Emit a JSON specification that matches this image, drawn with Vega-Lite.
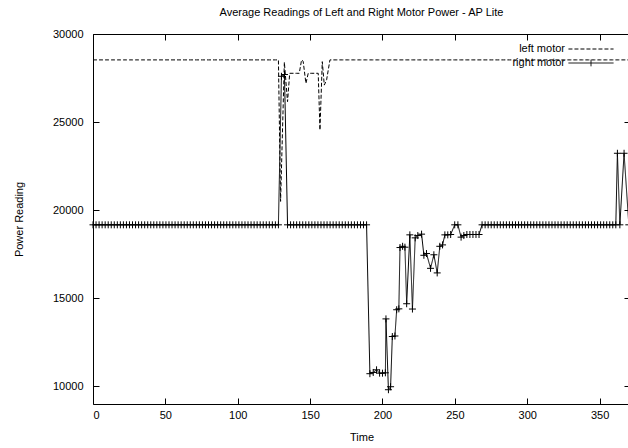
{
"$schema": "https://vega.github.io/schema/vega-lite/v6.json",
"width": 537, "height": 370,
"autosize": {"type": "none"},
"padding": {"left": 93, "top": 34, "right": 0, "bottom": 44},
"background": "white",
"config": {
  "font": "Liberation Sans",
  "view": {"stroke": "black", "strokeWidth": 1},
  "axis": {"grid": false, "domain": false, "tickColor": "black", "tickSize": -6, "labelColor": "black", "labelFontSize": 11, "titleFontSize": 11, "titleFontWeight": "normal", "titleColor": "black", "labelFont": "Liberation Sans", "titleFont": "Liberation Sans"}
},
"title": {"text": "Average Readings of Left and Right Motor Power - AP Lite", "fontSize": 11, "fontWeight": "normal", "font": "Liberation Sans", "offset": 10, "color": "black"},
"data": {"values": [
{"s":"left motor","t":0,"v":28530},{"s":"left motor","t":2.1,"v":28530},{"s":"left motor","t":4.2,"v":28530},{"s":"left motor","t":6.3,"v":28530},{"s":"left motor","t":8.4,"v":28530},{"s":"left motor","t":10.5,"v":28530},{"s":"left motor","t":12.6,"v":28530},{"s":"left motor","t":14.7,"v":28530},{"s":"left motor","t":16.8,"v":28530},{"s":"left motor","t":18.9,"v":28530},
{"s":"left motor","t":21,"v":28530},{"s":"left motor","t":23.1,"v":28530},{"s":"left motor","t":25.2,"v":28530},{"s":"left motor","t":27.3,"v":28530},{"s":"left motor","t":29.4,"v":28530},{"s":"left motor","t":31.5,"v":28530},{"s":"left motor","t":33.6,"v":28530},{"s":"left motor","t":35.7,"v":28530},{"s":"left motor","t":37.8,"v":28530},{"s":"left motor","t":39.9,"v":28530},
{"s":"left motor","t":42,"v":28530},{"s":"left motor","t":44.1,"v":28530},{"s":"left motor","t":46.2,"v":28530},{"s":"left motor","t":48.3,"v":28530},{"s":"left motor","t":50.4,"v":28530},{"s":"left motor","t":52.5,"v":28530},{"s":"left motor","t":54.6,"v":28530},{"s":"left motor","t":56.7,"v":28530},{"s":"left motor","t":58.8,"v":28530},{"s":"left motor","t":60.9,"v":28530},
{"s":"left motor","t":63,"v":28530},{"s":"left motor","t":65.1,"v":28530},{"s":"left motor","t":67.2,"v":28530},{"s":"left motor","t":69.3,"v":28530},{"s":"left motor","t":71.4,"v":28530},{"s":"left motor","t":73.5,"v":28530},{"s":"left motor","t":75.6,"v":28530},{"s":"left motor","t":77.7,"v":28530},{"s":"left motor","t":79.8,"v":28530},{"s":"left motor","t":81.9,"v":28530},
{"s":"left motor","t":84,"v":28530},{"s":"left motor","t":86.1,"v":28530},{"s":"left motor","t":88.2,"v":28530},{"s":"left motor","t":90.3,"v":28530},{"s":"left motor","t":92.4,"v":28530},{"s":"left motor","t":94.5,"v":28530},{"s":"left motor","t":96.6,"v":28530},{"s":"left motor","t":98.7,"v":28530},{"s":"left motor","t":100.8,"v":28530},{"s":"left motor","t":102.9,"v":28530},
{"s":"left motor","t":105,"v":28530},{"s":"left motor","t":107.1,"v":28530},{"s":"left motor","t":109.2,"v":28530},{"s":"left motor","t":111.3,"v":28530},{"s":"left motor","t":113.4,"v":28530},{"s":"left motor","t":115.5,"v":28530},{"s":"left motor","t":117.6,"v":28530},{"s":"left motor","t":119.7,"v":28530},{"s":"left motor","t":121.8,"v":28530},{"s":"left motor","t":123.9,"v":28530},
{"s":"left motor","t":126,"v":28530},{"s":"left motor","t":128.1,"v":28530},
{"s":"left motor","t":129.6,"v":20500},{"s":"left motor","t":132.2,"v":28400},{"s":"left motor","t":134.4,"v":26160},{"s":"left motor","t":135.9,"v":27770},{"s":"left motor","t":138.6,"v":27770},{"s":"left motor","t":140.7,"v":27770},{"s":"left motor","t":142.5,"v":27770},{"s":"left motor","t":144.1,"v":28530},{"s":"left motor","t":145.2,"v":28450},{"s":"left motor","t":147.1,"v":27200},
{"s":"left motor","t":148.7,"v":27770},{"s":"left motor","t":151.2,"v":27770},{"s":"left motor","t":153.3,"v":27770},{"s":"left motor","t":155.6,"v":27770},{"s":"left motor","t":156.8,"v":24550},{"s":"left motor","t":158.4,"v":28430},{"s":"left motor","t":159.8,"v":27100},{"s":"left motor","t":161.4,"v":27400},{"s":"left motor","t":163.7,"v":28530},
{"s":"left motor","t":165.9,"v":28530},{"s":"left motor","t":168,"v":28530},{"s":"left motor","t":170.1,"v":28530},{"s":"left motor","t":172.2,"v":28530},{"s":"left motor","t":174.3,"v":28530},{"s":"left motor","t":176.4,"v":28530},{"s":"left motor","t":178.5,"v":28530},{"s":"left motor","t":180.6,"v":28530},{"s":"left motor","t":182.7,"v":28530},{"s":"left motor","t":184.8,"v":28530},
{"s":"left motor","t":186.9,"v":28530},{"s":"left motor","t":189,"v":28530},{"s":"left motor","t":191.1,"v":28530},{"s":"left motor","t":193.2,"v":28530},{"s":"left motor","t":195.3,"v":28530},{"s":"left motor","t":197.4,"v":28530},{"s":"left motor","t":199.5,"v":28530},{"s":"left motor","t":201.6,"v":28530},{"s":"left motor","t":203.7,"v":28530},{"s":"left motor","t":205.8,"v":28530},
{"s":"left motor","t":207.9,"v":28530},{"s":"left motor","t":210,"v":28530},{"s":"left motor","t":212.1,"v":28530},{"s":"left motor","t":214.2,"v":28530},{"s":"left motor","t":216.3,"v":28530},{"s":"left motor","t":218.4,"v":28530},{"s":"left motor","t":220.5,"v":28530},{"s":"left motor","t":222.6,"v":28530},{"s":"left motor","t":224.7,"v":28530},{"s":"left motor","t":226.8,"v":28530},
{"s":"left motor","t":228.9,"v":28530},{"s":"left motor","t":231,"v":28530},{"s":"left motor","t":233.1,"v":28530},{"s":"left motor","t":235.2,"v":28530},{"s":"left motor","t":237.3,"v":28530},{"s":"left motor","t":239.4,"v":28530},{"s":"left motor","t":241.5,"v":28530},{"s":"left motor","t":243.6,"v":28530},{"s":"left motor","t":245.7,"v":28530},{"s":"left motor","t":247.8,"v":28530},
{"s":"left motor","t":249.9,"v":28530},{"s":"left motor","t":252,"v":28530},{"s":"left motor","t":254.1,"v":28530},{"s":"left motor","t":256.2,"v":28530},{"s":"left motor","t":258.3,"v":28530},{"s":"left motor","t":260.4,"v":28530},{"s":"left motor","t":262.5,"v":28530},{"s":"left motor","t":264.6,"v":28530},{"s":"left motor","t":266.7,"v":28530},{"s":"left motor","t":268.8,"v":28530},
{"s":"left motor","t":270.9,"v":28530},{"s":"left motor","t":273,"v":28530},{"s":"left motor","t":275.1,"v":28530},{"s":"left motor","t":277.2,"v":28530},{"s":"left motor","t":279.3,"v":28530},{"s":"left motor","t":281.4,"v":28530},{"s":"left motor","t":283.5,"v":28530},{"s":"left motor","t":285.6,"v":28530},{"s":"left motor","t":287.7,"v":28530},{"s":"left motor","t":289.8,"v":28530},
{"s":"left motor","t":291.9,"v":28530},{"s":"left motor","t":294,"v":28530},{"s":"left motor","t":296.1,"v":28530},{"s":"left motor","t":298.2,"v":28530},{"s":"left motor","t":300.3,"v":28530},{"s":"left motor","t":302.4,"v":28530},{"s":"left motor","t":304.5,"v":28530},{"s":"left motor","t":306.6,"v":28530},{"s":"left motor","t":308.7,"v":28530},{"s":"left motor","t":310.8,"v":28530},
{"s":"left motor","t":312.9,"v":28530},{"s":"left motor","t":315,"v":28530},{"s":"left motor","t":317.1,"v":28530},{"s":"left motor","t":319.2,"v":28530},{"s":"left motor","t":321.3,"v":28530},{"s":"left motor","t":323.4,"v":28530},{"s":"left motor","t":325.5,"v":28530},{"s":"left motor","t":327.6,"v":28530},{"s":"left motor","t":329.7,"v":28530},{"s":"left motor","t":331.8,"v":28530},
{"s":"left motor","t":333.9,"v":28530},{"s":"left motor","t":336,"v":28530},{"s":"left motor","t":338.1,"v":28530},{"s":"left motor","t":340.2,"v":28530},{"s":"left motor","t":342.3,"v":28530},{"s":"left motor","t":344.4,"v":28530},{"s":"left motor","t":346.5,"v":28530},{"s":"left motor","t":348.6,"v":28530},{"s":"left motor","t":350.7,"v":28530},{"s":"left motor","t":352.8,"v":28530},
{"s":"left motor","t":354.9,"v":28530},{"s":"left motor","t":357,"v":28530},{"s":"left motor","t":359.1,"v":28530},{"s":"left motor","t":361.2,"v":28530},{"s":"left motor","t":363.3,"v":28530},{"s":"left motor","t":365.4,"v":28530},{"s":"left motor","t":367.5,"v":28530},{"s":"left motor","t":369.6,"v":28530},
{"s":"right motor","t":0,"v":19170},{"s":"right motor","t":2.1,"v":19170},{"s":"right motor","t":4.2,"v":19170},{"s":"right motor","t":6.3,"v":19170},{"s":"right motor","t":8.4,"v":19170},{"s":"right motor","t":10.5,"v":19170},{"s":"right motor","t":12.6,"v":19170},{"s":"right motor","t":14.7,"v":19170},{"s":"right motor","t":16.8,"v":19170},{"s":"right motor","t":18.9,"v":19170},
{"s":"right motor","t":21,"v":19170},{"s":"right motor","t":23.1,"v":19170},{"s":"right motor","t":25.2,"v":19170},{"s":"right motor","t":27.3,"v":19170},{"s":"right motor","t":29.4,"v":19170},{"s":"right motor","t":31.5,"v":19170},{"s":"right motor","t":33.6,"v":19170},{"s":"right motor","t":35.7,"v":19170},{"s":"right motor","t":37.8,"v":19170},{"s":"right motor","t":39.9,"v":19170},
{"s":"right motor","t":42,"v":19170},{"s":"right motor","t":44.1,"v":19170},{"s":"right motor","t":46.2,"v":19170},{"s":"right motor","t":48.3,"v":19170},{"s":"right motor","t":50.4,"v":19170},{"s":"right motor","t":52.5,"v":19170},{"s":"right motor","t":54.6,"v":19170},{"s":"right motor","t":56.7,"v":19170},{"s":"right motor","t":58.8,"v":19170},{"s":"right motor","t":60.9,"v":19170},
{"s":"right motor","t":63,"v":19170},{"s":"right motor","t":65.1,"v":19170},{"s":"right motor","t":67.2,"v":19170},{"s":"right motor","t":69.3,"v":19170},{"s":"right motor","t":71.4,"v":19170},{"s":"right motor","t":73.5,"v":19170},{"s":"right motor","t":75.6,"v":19170},{"s":"right motor","t":77.7,"v":19170},{"s":"right motor","t":79.8,"v":19170},{"s":"right motor","t":81.9,"v":19170},
{"s":"right motor","t":84,"v":19170},{"s":"right motor","t":86.1,"v":19170},{"s":"right motor","t":88.2,"v":19170},{"s":"right motor","t":90.3,"v":19170},{"s":"right motor","t":92.4,"v":19170},{"s":"right motor","t":94.5,"v":19170},{"s":"right motor","t":96.6,"v":19170},{"s":"right motor","t":98.7,"v":19170},{"s":"right motor","t":100.8,"v":19170},{"s":"right motor","t":102.9,"v":19170},
{"s":"right motor","t":105,"v":19170},{"s":"right motor","t":107.1,"v":19170},{"s":"right motor","t":109.2,"v":19170},{"s":"right motor","t":111.3,"v":19170},{"s":"right motor","t":113.4,"v":19170},{"s":"right motor","t":115.5,"v":19170},{"s":"right motor","t":117.6,"v":19170},{"s":"right motor","t":119.7,"v":19170},{"s":"right motor","t":121.8,"v":19170},{"s":"right motor","t":123.9,"v":19170},
{"s":"right motor","t":126,"v":19170},{"s":"right motor","t":128.1,"v":19170},{"s":"right motor","t":130.2,"v":27600},{"s":"right motor","t":132.3,"v":27700},
{"s":"right motor","t":134.4,"v":19170},{"s":"right motor","t":136.5,"v":19170},{"s":"right motor","t":138.6,"v":19170},{"s":"right motor","t":140.7,"v":19170},{"s":"right motor","t":142.8,"v":19170},{"s":"right motor","t":144.9,"v":19170},{"s":"right motor","t":147,"v":19170},{"s":"right motor","t":149.1,"v":19170},{"s":"right motor","t":151.2,"v":19170},{"s":"right motor","t":153.3,"v":19170},
{"s":"right motor","t":155.4,"v":19170},{"s":"right motor","t":157.5,"v":19170},{"s":"right motor","t":159.6,"v":19170},{"s":"right motor","t":161.7,"v":19170},{"s":"right motor","t":163.8,"v":19170},{"s":"right motor","t":165.9,"v":19170},{"s":"right motor","t":168,"v":19170},{"s":"right motor","t":170.1,"v":19170},{"s":"right motor","t":172.2,"v":19170},{"s":"right motor","t":174.3,"v":19170},
{"s":"right motor","t":176.4,"v":19170},{"s":"right motor","t":178.5,"v":19170},{"s":"right motor","t":180.6,"v":19170},{"s":"right motor","t":182.7,"v":19170},{"s":"right motor","t":184.8,"v":19170},{"s":"right motor","t":186.9,"v":19170},{"s":"right motor","t":189,"v":19170},
{"s":"right motor","t":191.3,"v":10720},{"s":"right motor","t":193.6,"v":10790},{"s":"right motor","t":195.9,"v":10940},{"s":"right motor","t":198,"v":10750},{"s":"right motor","t":200,"v":10750},{"s":"right motor","t":202,"v":10770},{"s":"right motor","t":202.4,"v":13830},{"s":"right motor","t":204.1,"v":9810},{"s":"right motor","t":205.6,"v":9980},{"s":"right motor","t":206.8,"v":12830},
{"s":"right motor","t":208.6,"v":12860},{"s":"right motor","t":209.8,"v":14350},{"s":"right motor","t":211.3,"v":14400},{"s":"right motor","t":212.1,"v":17880},{"s":"right motor","t":213.9,"v":17950},{"s":"right motor","t":215.5,"v":17900},{"s":"right motor","t":216.7,"v":14690},{"s":"right motor","t":218.9,"v":18600},{"s":"right motor","t":220.7,"v":14390},{"s":"right motor","t":222.6,"v":18430},
{"s":"right motor","t":224.4,"v":18560},{"s":"right motor","t":227,"v":18640},{"s":"right motor","t":228.6,"v":17440},{"s":"right motor","t":230.4,"v":17540},{"s":"right motor","t":233.2,"v":16700},{"s":"right motor","t":235.5,"v":17470},{"s":"right motor","t":237.8,"v":16440},{"s":"right motor","t":239.6,"v":17950},{"s":"right motor","t":241.5,"v":18030},{"s":"right motor","t":243.1,"v":18600},
{"s":"right motor","t":245.1,"v":18600},{"s":"right motor","t":247.1,"v":18620},{"s":"right motor","t":249.9,"v":19170},{"s":"right motor","t":252.1,"v":19170},{"s":"right motor","t":254.3,"v":18470},{"s":"right motor","t":256.2,"v":18560},{"s":"right motor","t":258.3,"v":18620},{"s":"right motor","t":260.4,"v":18620},{"s":"right motor","t":262.5,"v":18620},{"s":"right motor","t":264.6,"v":18620},
{"s":"right motor","t":266.7,"v":18620},
{"s":"right motor","t":268.8,"v":19170},{"s":"right motor","t":270.9,"v":19170},{"s":"right motor","t":273,"v":19170},{"s":"right motor","t":275.1,"v":19170},{"s":"right motor","t":277.2,"v":19170},{"s":"right motor","t":279.3,"v":19170},{"s":"right motor","t":281.4,"v":19170},{"s":"right motor","t":283.5,"v":19170},{"s":"right motor","t":285.6,"v":19170},{"s":"right motor","t":287.7,"v":19170},
{"s":"right motor","t":289.8,"v":19170},{"s":"right motor","t":291.9,"v":19170},{"s":"right motor","t":294,"v":19170},{"s":"right motor","t":296.1,"v":19170},{"s":"right motor","t":298.2,"v":19170},{"s":"right motor","t":300.3,"v":19170},{"s":"right motor","t":302.4,"v":19170},{"s":"right motor","t":304.5,"v":19170},{"s":"right motor","t":306.6,"v":19170},{"s":"right motor","t":308.7,"v":19170},
{"s":"right motor","t":310.8,"v":19170},{"s":"right motor","t":312.9,"v":19170},{"s":"right motor","t":315,"v":19170},{"s":"right motor","t":317.1,"v":19170},{"s":"right motor","t":319.2,"v":19170},{"s":"right motor","t":321.3,"v":19170},{"s":"right motor","t":323.4,"v":19170},{"s":"right motor","t":325.5,"v":19170},{"s":"right motor","t":327.6,"v":19170},{"s":"right motor","t":329.7,"v":19170},
{"s":"right motor","t":331.8,"v":19170},{"s":"right motor","t":333.9,"v":19170},{"s":"right motor","t":336,"v":19170},{"s":"right motor","t":338.1,"v":19170},{"s":"right motor","t":340.2,"v":19170},{"s":"right motor","t":342.3,"v":19170},{"s":"right motor","t":344.4,"v":19170},{"s":"right motor","t":346.5,"v":19170},{"s":"right motor","t":348.6,"v":19170},{"s":"right motor","t":350.7,"v":19170},
{"s":"right motor","t":352.8,"v":19170},{"s":"right motor","t":354.9,"v":19170},{"s":"right motor","t":357,"v":19170},{"s":"right motor","t":359.1,"v":19170},{"s":"right motor","t":361.2,"v":19170},{"s":"right motor","t":362.3,"v":23230},{"s":"right motor","t":364,"v":19170},{"s":"right motor","t":366.9,"v":23230},{"s":"right motor","t":370.2,"v":19170}
]},
"layer": [
  {"mark": {"type": "line", "strokeWidth": 1, "color": "black"},
   "encoding": {
     "x": {"field": "t", "type": "quantitative", "scale": {"domain": [0, 371], "nice": false, "zero": false},
           "axis": {"title": "Time", "values": [0, 50, 100, 150, 200, 250, 300, 350], "labelPadding": 11, "titlePadding": 11}},
     "y": {"field": "v", "type": "quantitative", "scale": {"domain": [9000, 30000], "nice": false, "zero": false},
           "axis": {"title": "Power Reading", "format": "d", "values": [10000, 15000, 20000, 25000, 30000], "labelPadding": 16, "titlePadding": 28}},
     "strokeDash": {"field": "s", "type": "nominal",
           "scale": {"domain": ["left motor", "right motor"], "range": [[4, 2], [1, 0]]},
           "legend": {"title": null, "orient": "none", "legendX": 492, "legendY": 9, "symbolType": "M-4.1,0H4.1", "symbolSize": 121,
                      "symbolStrokeColor": "black", "symbolStrokeWidth": 1, "labelAlign": "right", "labelOffset": -32,
                      "labelFontSize": 11, "labelColor": "black", "labelFont": "Liberation Sans", "rowPadding": 3, "padding": 0,
                      "encode": {"symbols": {"update": {"shape": {"signal": "datum.value === 'right motor' ? 'M-4.1,0H4.1M0,-0.6V0.6' : 'M-4.1,0H4.1'"}}}}}}
   }},
  {"transform": [{"filter": "datum.s === 'right motor'"}],
   "mark": {"type": "point", "shape": "M-1,0H1M0,-1V1", "size": 49, "filled": false, "color": "black", "strokeWidth": 1, "opacity": 1},
   "encoding": {
     "x": {"field": "t", "type": "quantitative", "axis": {"orient": "top", "labels": false, "title": null, "values": [0, 50, 100, 150, 200, 250, 300, 350]}},
     "y": {"field": "v", "type": "quantitative", "axis": {"orient": "right", "labels": false, "title": null, "values": [10000, 15000, 20000, 25000, 30000]}}
   }}
],
"resolve": {"axis": {"x": "independent", "y": "independent"}}
}
